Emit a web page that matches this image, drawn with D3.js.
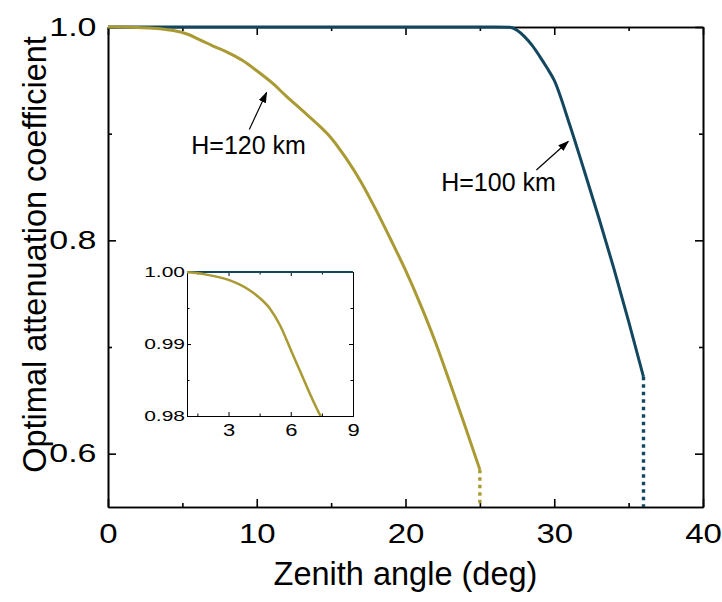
<!DOCTYPE html>
<html>
<head>
<meta charset="utf-8">
<script src="https://cdn.jsdelivr.net/npm/d3@7"></script>
<style>
  body { margin: 0; background: #fff; }
  text { font-family: Arial, "Liberation Sans", sans-serif; fill: #000; }
  .axis path, .axis line { stroke: #000; }
</style>
</head>
<body>
<div id="chart"></div>
<script>
'use strict';

// zenith angle (deg) and optimal attenuation coefficient
var angle120 = [0, 1, 2, 3, 3.5, 4, 4.5, 5, 5.5, 6, 6.5, 7, 8, 9, 10, 11, 12, 13, 14, 15,
    16, 17, 18, 19, 20, 21, 22, 23, 24, 25];
var coef120 = [1.0, 0.99995, 0.9996, 0.9989, 0.9983, 0.9975, 0.9964, 0.9949, 0.9925, 0.9892, 0.9859, 0.9826,
    0.9765, 0.9690, 0.9590, 0.9480, 0.9350, 0.9225, 0.9100, 0.8960, 0.8770, 0.8550, 0.8290, 0.8010,
    0.7720, 0.7400, 0.7050, 0.6660, 0.6260, 0.5850];

var angle100 = [0, 5, 10, 15, 20, 25, 26, 27, 27.5, 28, 28.5, 29, 29.5, 30, 31, 32, 33, 34, 35, 36];
var coef100 = [1.0, 1.0, 1.0, 1.0, 1.0, 1.0, 1.0, 0.9998, 0.997, 0.991, 0.983, 0.973, 0.962, 0.950,
    0.910, 0.866, 0.821, 0.774, 0.724, 0.672];

var seriesColors = ['#12475f', '#a99a33'];

var xTicks = [0, 10, 20, 30, 40];
var xMinor = [5, 15, 25, 35];
var yTicks = [0.6, 0.8, 1.0];
var yMinor = [0.7, 0.9];

var insetXTicks = [3, 6, 9];
var insetXMinor = [1.5, 4.5, 7.5];
var insetYTicks = [0.98, 0.99, 1.00];
var insetYMinor = [0.985, 0.995];

// annotation: label anchor and arrow (tail -> head) in data units
var noteText = ['H=120 km', 'H=100 km'];
var noteX = [5.6, 22.4];
var noteY = [0.881, 0.846];
var arrowFrom = [[9.5, 0.904], [28.8, 0.866]];
var arrowTo = [[10.66, 0.9385], [30.94, 0.8926]];

//overall size and plot margins
var W = 722, H = 602;
var margin = { top: 27, right: 19, bottom: 95, left: 108 };
var w = W - margin.left - margin.right;
var h = H - margin.top - margin.bottom;

var svg = d3.select('#chart').append('svg')
    .attr('width', W)
    .attr('height', H);

var defs = svg.append('defs');
defs.append('marker')
    .attr('id', 'head')
    .attr('viewBox', '0 0 10 10')
    .attr('refX', 9).attr('refY', 5)
    .attr('markerWidth', 11).attr('markerHeight', 11)
    .attr('markerUnits', 'userSpaceOnUse')
    .attr('orient', 'auto')
    .append('path')
    .attr('d', 'M0,1.5L10,5L0,8.5Z')
    .attr('fill', '#000');

var g = svg.append('g')
    .attr('transform', 'translate(' + margin.left + ',' + margin.top + ')');

var x = d3.scaleLinear().domain([0, 40]).range([0, w]);
var y = d3.scaleLinear().domain([0.55, 1.0]).range([h, 0]);

var pts120 = angle120.map(function (a, i) { return [a, coef120[i]]; });
var pts100 = angle100.map(function (a, i) { return [a, coef100[i]]; });

//tick labels in the figure are squashed vertically
function squashX(sel, fs, sy, pad) {
    sel.selectAll('text')
        .style('font-size', fs + 'px')
        .attr('transform', 'translate(0,' + pad + ') scale(1,' + sy + ') translate(0,' + (-pad) + ')');
}
function squashY(sel, fs, sy) {
    sel.selectAll('text')
        .style('font-size', fs + 'px')
        .attr('transform', 'scale(1,' + sy + ')');
}

//axes, ticks pointing inward on all four sides
function frame(sel, xs, ys, t, o) {
    var bottom = ys.range()[0], right = xs.range()[1];
    sel.append('g').attr('class', 'axis')
        .attr('transform', 'translate(0,' + bottom + ')')
        .call(d3.axisBottom(xs).tickValues(t.xm).tickSize(-o.minor).tickSizeOuter(0).tickFormat(''));
    sel.append('g').attr('class', 'axis')
        .attr('transform', 'translate(0,' + bottom + ')')
        .call(d3.axisBottom(xs).tickValues(t.xt).tickSize(-o.major).tickSizeOuter(0)
            .tickPadding(o.padX).tickFormat(o.fmtX))
        .call(squashX, o.fsX, o.syX, o.padX);
    sel.append('g').attr('class', 'axis')
        .call(d3.axisTop(xs).tickValues(t.xm).tickSize(-o.minor).tickSizeOuter(0).tickFormat(''));
    sel.append('g').attr('class', 'axis')
        .call(d3.axisTop(xs).tickValues(t.xt).tickSize(-o.major).tickSizeOuter(0).tickFormat(''));
    sel.append('g').attr('class', 'axis')
        .call(d3.axisLeft(ys).tickValues(t.ym).tickSize(-o.minor).tickSizeOuter(0).tickFormat(''));
    sel.append('g').attr('class', 'axis')
        .call(d3.axisLeft(ys).tickValues(t.yt).tickSize(-o.major).tickSizeOuter(0)
            .tickPadding(o.padY).tickFormat(o.fmtY))
        .call(squashY, o.fsY, o.syY);
    sel.append('g').attr('class', 'axis')
        .attr('transform', 'translate(' + right + ',0)')
        .call(d3.axisRight(ys).tickValues(t.ym).tickSize(-o.minor).tickSizeOuter(0).tickFormat(''));
    sel.append('g').attr('class', 'axis')
        .attr('transform', 'translate(' + right + ',0)')
        .call(d3.axisRight(ys).tickValues(t.yt).tickSize(-o.major).tickSizeOuter(0).tickFormat(''));
    sel.selectAll('.axis path, .axis line')
        .attr('stroke', o.color)
        .attr('stroke-width', o.sw);
}

frame(g, x, y,
    { xt: xTicks, xm: xMinor, yt: yTicks, ym: yMinor },
    { major: 8, minor: 4, padX: 16, padY: 11.5, fmtX: d3.format('d'), fmtY: d3.format('.1f'),
      fsX: 33, syX: 0.85, fsY: 34, syY: 0.76, color: '#000', sw: 1.6 });

//curves
var line = d3.line()
    .x(function (d) { return x(d[0]); })
    .y(function (d) { return y(d[1]); });

g.append('path')
    .datum(pts100)
    .attr('d', line.curve(d3.curveMonotoneX))
    .attr('fill', 'none')
    .attr('stroke', seriesColors[0])
    .attr('stroke-width', 3);

g.append('path')
    .datum(pts120)
    .attr('d', line.curve(d3.curveMonotoneX))
    .attr('fill', 'none')
    .attr('stroke', seriesColors[1])
    .attr('stroke-width', 3);

//dotted drop to the axis where each curve stops
[pts100, pts120].forEach(function (pts, i) {
    var last = pts[pts.length - 1];
    g.append('line')
        .attr('x1', x(last[0])).attr('x2', x(last[0]))
        .attr('y1', y(last[1])).attr('y2', y(y.domain()[0]))
        .attr('stroke', seriesColors[i])
        .attr('stroke-width', 3.4)
        .attr('stroke-dasharray', '3.5,4');
});

//titles
g.append('text')
    .text('Zenith angle (deg)')
    .attr('x', w / 2)
    .attr('y', h + 78)
    .attr('text-anchor', 'middle')
    .style('font-size', '32.5px');
g.append('text')
    .text('Optimal attenuation coefficient')
    .attr('transform', 'translate(' + (-62) + ',' + (h / 2 - 12.5) + ') rotate(-90)')
    .attr('text-anchor', 'middle')
    .style('font-size', '32.5px');

//labels with arrows
noteText.forEach(function (t, i) {
    g.append('text')
        .text(t)
        .attr('x', x(noteX[i]))
        .attr('y', y(noteY[i]))
        .style('font-size', '25px');
    g.append('line')
        .attr('x1', x(arrowFrom[i][0])).attr('y1', y(arrowFrom[i][1]))
        .attr('x2', x(arrowTo[i][0])).attr('y2', y(arrowTo[i][1]))
        .attr('stroke', '#000')
        .attr('stroke-width', 1.2)
        .attr('marker-end', 'url(#head)');
});

//inset
var inset = { left: 187, top: 272, w: 166, h: 144 };
var ix = d3.scaleLinear().domain([1, 9]).range([0, inset.w]);
var iy = d3.scaleLinear().domain([0.98, 1.0]).range([inset.h, 0]);

var gi = svg.append('g')
    .attr('transform', 'translate(' + inset.left + ',' + inset.top + ')');

gi.append('rect')
    .attr('width', inset.w).attr('height', inset.h)
    .attr('fill', '#fff');

defs.append('clipPath').attr('id', 'inset-clip')
    .append('rect')
    .attr('x', 0).attr('y', -2)
    .attr('width', inset.w).attr('height', inset.h + 2);

frame(gi, ix, iy,
    { xt: insetXTicks, xm: insetXMinor, yt: insetYTicks, ym: insetYMinor },
    { major: 4, minor: 2.5, padX: 9, padY: 2, fmtX: d3.format('d'), fmtY: d3.format('.2f'),
      fsX: 22, syX: 0.72, fsY: 21, syY: 0.74, color: '#333', sw: 1 });

var iline = d3.line()
    .x(function (d) { return ix(d[0]); })
    .y(function (d) { return iy(d[1]); })
    .curve(d3.curveMonotoneX);

var gc = gi.append('g').attr('clip-path', 'url(#inset-clip)');
gc.append('path')
    .datum(pts100)
    .attr('d', iline)
    .attr('fill', 'none')
    .attr('stroke', seriesColors[0])
    .attr('stroke-width', 2);
gc.append('path')
    .datum(pts120)
    .attr('d', iline)
    .attr('fill', 'none')
    .attr('stroke', seriesColors[1])
    .attr('stroke-width', 2.5);
</script>
</body>
</html>
